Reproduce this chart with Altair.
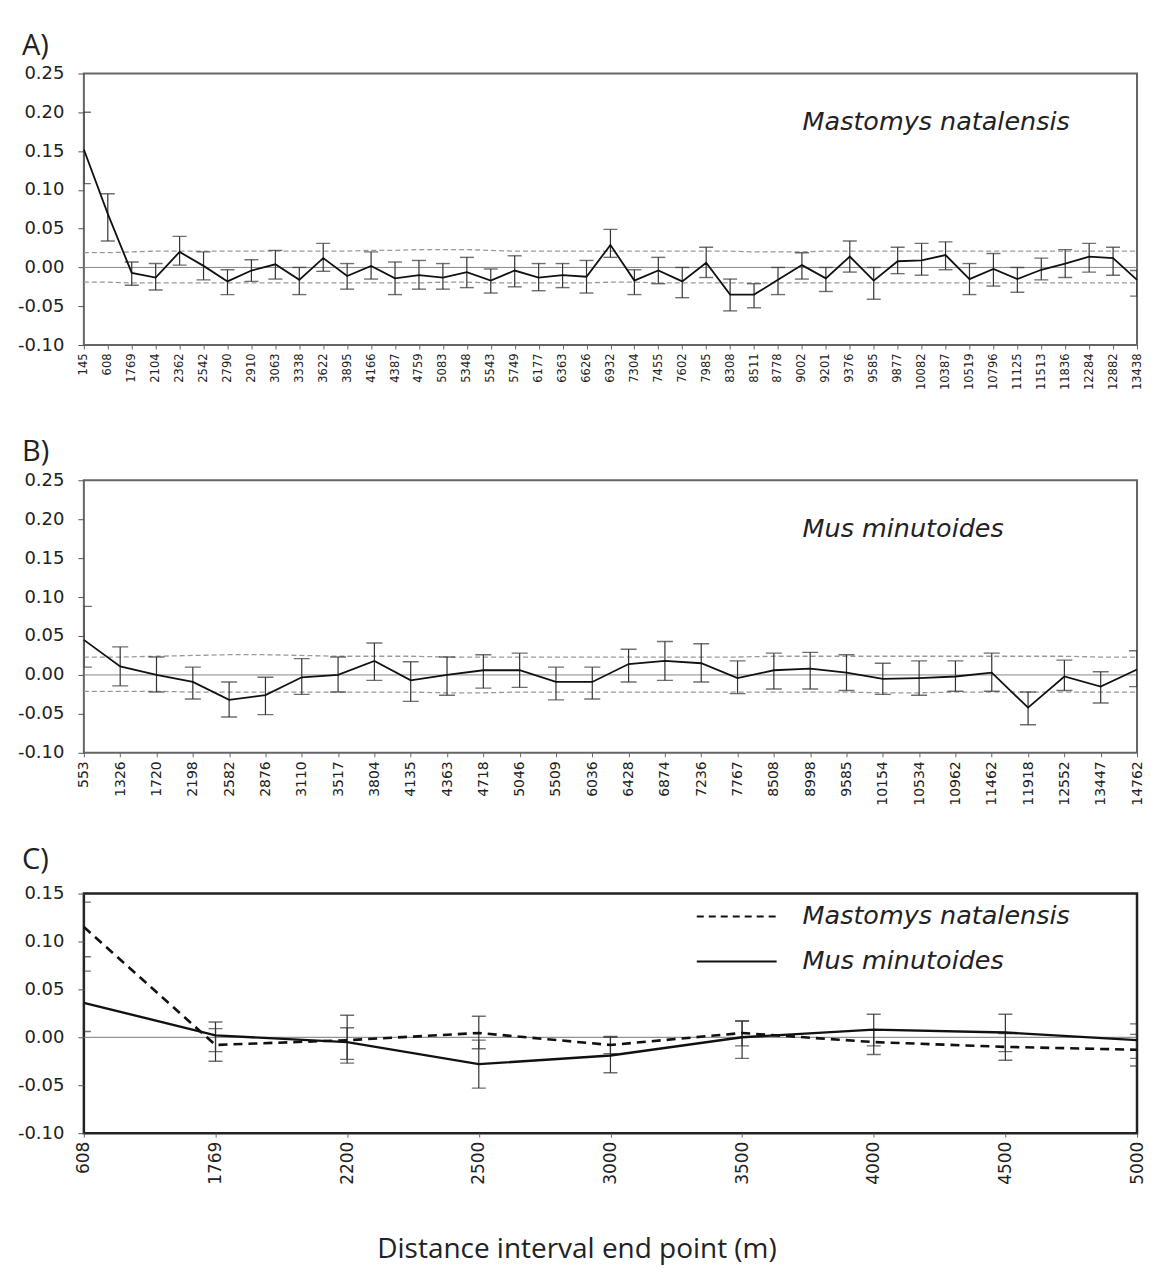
import altair as alt
import pandas as pd

# ---------------- Panel A: Mastomys natalensis ----------------
a_dist = ["145", "608", "1769", "2104", "2362", "2542", "2790", "2910", "3063", "3338",
          "3622", "3895", "4166", "4387", "4759", "5083", "5348", "5543", "5749", "6177",
          "6363", "6626", "6932", "7304", "7455", "7602", "7985", "8308", "8511", "8778",
          "9002", "9201", "9376", "9585", "9877", "10082", "10387", "10519", "10796", "11125",
          "11513", "11836", "12284", "12882", "13438"]
a_mean = [0.152, 0.069, -0.007, -0.013, 0.020, 0.002, -0.018, -0.004, 0.004, -0.016,
          0.012, -0.011, 0.002, -0.014, -0.010, -0.013, -0.006, -0.017, -0.004, -0.013,
          -0.010, -0.012, 0.029, -0.017, -0.004, -0.018, 0.006, -0.035, -0.035, -0.016,
          0.003, -0.014, 0.014, -0.017, 0.008, 0.009, 0.016, -0.015, -0.002, -0.015,
          -0.003, 0.005, 0.014, 0.012, -0.016]
a_lo = [0.108, 0.034, -0.023, -0.029, 0.003, -0.016, -0.035, -0.018, -0.015, -0.035,
        -0.005, -0.028, -0.015, -0.035, -0.028, -0.028, -0.026, -0.033, -0.025, -0.030,
        -0.026, -0.033, 0.013, -0.035, -0.021, -0.039, -0.013, -0.056, -0.052, -0.035,
        -0.015, -0.031, -0.006, -0.041, -0.008, -0.010, -0.003, -0.035, -0.024, -0.032,
        -0.016, -0.013, -0.006, -0.010, -0.037]
a_hi = [0.200, 0.095, 0.007, 0.005, 0.040, 0.020, -0.003, 0.010, 0.022, 0.000,
        0.031, 0.005, 0.020, 0.007, 0.009, 0.005, 0.013, -0.002, 0.015, 0.005,
        0.005, 0.009, 0.049, -0.003, 0.013, 0.000, 0.026, -0.015, -0.021, 0.000,
        0.019, 0.000, 0.034, 0.000, 0.026, 0.031, 0.033, 0.005, 0.018, 0.000,
        0.012, 0.023, 0.031, 0.026, -0.004]
a_env_hi = [0.019, 0.019, 0.020, 0.021, 0.021, 0.021, 0.021, 0.021, 0.021, 0.021,
            0.021, 0.021, 0.022, 0.022, 0.023, 0.023, 0.023, 0.022, 0.021, 0.021,
            0.021, 0.021, 0.021, 0.021, 0.021, 0.021, 0.021, 0.021, 0.020, 0.020,
            0.020, 0.021, 0.021, 0.021, 0.021, 0.021, 0.021, 0.021, 0.021, 0.021,
            0.021, 0.021, 0.021, 0.021, 0.021]
a_env_lo = [-0.019, -0.019, -0.020, -0.020, -0.020, -0.020, -0.020, -0.020, -0.020, -0.020,
            -0.020, -0.020, -0.020, -0.020, -0.020, -0.019, -0.019, -0.020, -0.020, -0.020,
            -0.020, -0.020, -0.019, -0.019, -0.020, -0.020, -0.020, -0.020, -0.020, -0.020,
            -0.020, -0.020, -0.020, -0.020, -0.020, -0.020, -0.020, -0.020, -0.020, -0.020,
            -0.020, -0.020, -0.020, -0.020, -0.020]

# ---------------- Panel B: Mus minutoides ----------------
b_dist = ["553", "1326", "1720", "2198", "2582", "2876", "3110", "3517", "3804", "4135",
          "4363", "4718", "5046", "5509", "6036", "6428", "6874", "7236", "7767", "8508",
          "8998", "9585", "10154", "10534", "10962", "11462", "11918", "12552", "13447", "14762"]
b_mean = [0.045, 0.011, 0.000, -0.009, -0.032, -0.026, -0.003, 0.000, 0.018, -0.007,
          0.000, 0.006, 0.006, -0.009, -0.009, 0.014, 0.018, 0.015, -0.004, 0.006,
          0.008, 0.003, -0.005, -0.004, -0.002, 0.003, -0.042, -0.002, -0.015, 0.007]
b_lo = [0.010, -0.014, -0.022, -0.031, -0.054, -0.051, -0.025, -0.022, -0.007, -0.034,
        -0.026, -0.017, -0.016, -0.032, -0.031, -0.009, -0.007, -0.009, -0.024, -0.018,
        -0.018, -0.020, -0.025, -0.026, -0.021, -0.021, -0.064, -0.020, -0.036, -0.015]
b_hi = [0.088, 0.036, 0.023, 0.010, -0.009, -0.003, 0.021, 0.023, 0.041, 0.017,
        0.023, 0.026, 0.028, 0.010, 0.010, 0.033, 0.043, 0.040, 0.018, 0.028,
        0.029, 0.026, 0.015, 0.018, 0.018, 0.028, -0.022, 0.019, 0.004, 0.031]
b_env_hi = [0.023, 0.023, 0.024, 0.025, 0.026, 0.026, 0.025, 0.024, 0.024, 0.024,
            0.023, 0.023, 0.023, 0.023, 0.023, 0.023, 0.023, 0.023, 0.023, 0.024,
            0.024, 0.024, 0.024, 0.024, 0.024, 0.024, 0.024, 0.024, 0.023, 0.023]
b_env_lo = [-0.021, -0.021, -0.021, -0.022, -0.022, -0.022, -0.022, -0.022, -0.022, -0.022,
            -0.023, -0.023, -0.022, -0.022, -0.022, -0.022, -0.022, -0.022, -0.022, -0.022,
            -0.022, -0.022, -0.023, -0.023, -0.022, -0.022, -0.022, -0.022, -0.022, -0.022]

# ---------------- Panel C: both species, common intervals ----------------
c_dist = ["608", "1769", "2200", "2500", "3000", "3500", "4000", "4500", "5000"]
c_mast_mean = [0.115, -0.008, -0.003, 0.0045, -0.008, 0.0045, -0.005, -0.010, -0.013]
c_mast_lo = [0.084, -0.025, -0.023, -0.012, -0.017, -0.009, -0.018, -0.024, -0.030]
c_mast_hi = [0.141, 0.009, 0.010, 0.022, 0.001, 0.017, 0.008, 0.004, 0.003]
c_mus_mean = [0.036, 0.002, -0.005, -0.028, -0.019, 0.000, 0.008, 0.005, -0.003]
c_mus_lo = [0.006, -0.015, -0.027, -0.053, -0.037, -0.022, -0.009, -0.015, -0.022]
c_mus_hi = [0.069, 0.016, 0.023, -0.003, 0.000, 0.017, 0.024, 0.024, 0.014]

species_a = "Mastomys natalensis"
species_b = "Mus minutoides"
x_title = "Distance interval end point (m)"
y_ticks_ab = [-0.1, -0.05, 0, 0.05, 0.1, 0.15, 0.2, 0.25]
y_ticks_c = [-0.1, -0.05, 0, 0.05, 0.1, 0.15]

LABEL_FONT = "DejaVu Sans"
TEXT_FONT = "Open Sans"
SPECIES_FONT = "DejaVu Sans"
W = 1055


def yax(vals):
    return alt.Axis(values=vals, labelExpr="replace(format(datum.value, '.2f'), '\u2212', '-')",
                    title=None, grid=False, domain=False, tickSize=6, labelPadding=14,
                    labelFontSize=18, labelFont=LABEL_FONT, labelColor="#222", tickColor="#555",
                    labelOverlap=False, labelBound=False, labelFlush=False)


def xax(fs):
    return alt.Axis(title=None, labelAngle=-90, grid=False, domain=False, tickSize=4,
                    labelPadding=4, labelFontSize=fs, labelFont=LABEL_FONT, labelColor="#222",
                    tickColor="#666", labelOverlap=False, labelFlush=False)


def letter_layer(letter, ypos):
    return alt.Chart(pd.DataFrame({"t": [letter]})).mark_text(
        font=TEXT_FONT, fontSize=29, align="left", baseline="middle", color="#222").encode(
        x=alt.value(-62), y=alt.value(ypos), text="t:N")


def single_panel(dist, mean, lo, hi, env_hi, env_lo, letter, letter_y, species, h, lab_fs, cap):
    df = pd.DataFrame({"d": dist, "i": list(range(len(dist))), "m": mean, "lo": lo, "hi": hi,
                       "eh": env_hi, "el": env_lo})
    xenc = alt.X("d:N", sort=dist, scale=alt.Scale(type="point", padding=0), axis=xax(lab_fs))
    yscale = alt.Scale(domain=[-0.1, 0.25], nice=False, zero=False)
    ya = yax(y_ticks_ab)

    def Y(f):
        return alt.Y(f, scale=yscale, axis=ya)

    base = alt.Chart(df)
    zero = alt.Chart(pd.DataFrame({"z": [0.0]})).mark_rule(color="#888", strokeWidth=1).encode(
        y=Y("z:Q"))
    env_u = base.mark_line(color="#999", strokeDash=[5, 3], strokeWidth=1.3).encode(
        x=xenc, y=Y("eh:Q"), order="i:Q")
    env_l = base.mark_line(color="#999", strokeDash=[5, 3], strokeWidth=1.3).encode(
        x=xenc, y=Y("el:Q"), order="i:Q")
    bars = base.mark_rule(color="#333", strokeWidth=1.2, clip=True).encode(
        x=xenc, y=Y("lo:Q"), y2="hi:Q")
    cap_hi = base.mark_tick(color="#333", size=cap, thickness=1.4, clip=True).encode(
        x=xenc, y=Y("hi:Q"))
    cap_lo = base.mark_tick(color="#333", size=cap, thickness=1.4, clip=True).encode(
        x=xenc, y=Y("lo:Q"))
    line = base.mark_line(color="#111", strokeWidth=1.8).encode(
        x=xenc, y=Y("m:Q"), order="i:Q")
    lab = alt.Chart(pd.DataFrame({"t": [species]})).mark_text(
        font=SPECIES_FONT, fontStyle="italic", fontSize=25.5, align="left", baseline="middle",
        color="#222").encode(x=alt.value(720), y=alt.value(49), text="t:N")
    return alt.layer(zero, env_u, env_l, bars, cap_hi, cap_lo, line, lab,
                     letter_layer(letter, letter_y)).properties(
        width=W, height=h, view=alt.ViewBackground(stroke="#666", strokeWidth=2))


panel_a = single_panel(a_dist, a_mean, a_lo, a_hi, a_env_hi, a_env_lo, "A)", -28, species_a, 272, 11.5, 14)
panel_b = single_panel(b_dist, b_mean, b_lo, b_hi, b_env_hi, b_env_lo, "B)", -28, species_b, 273, 14, 16)

# Panel C
dfc = pd.DataFrame({"d": c_dist, "i": list(range(len(c_dist))),
                    "mm": c_mast_mean, "ml": c_mast_lo, "mh": c_mast_hi,
                    "um": c_mus_mean, "ul": c_mus_lo, "uh": c_mus_hi})
yscale_c = alt.Scale(domain=[-0.1, 0.15], nice=False, zero=False)
ya_c = yax(y_ticks_c)


def YC(f):
    return alt.Y(f, scale=yscale_c, axis=ya_c)


xenc_c = alt.X("d:N", sort=c_dist, scale=alt.Scale(type="point", padding=0), axis=xax(17))
basec = alt.Chart(dfc)
c_layers = [
    alt.Chart(pd.DataFrame({"z": [0.0]})).mark_rule(color="#777", strokeWidth=1).encode(y=YC("z:Q")),
]
for lo_f, hi_f in (("ml", "mh"), ("ul", "uh")):
    c_layers.append(basec.mark_rule(color="#333", strokeWidth=1.2, clip=True).encode(
        x=xenc_c, y=YC(f"{lo_f}:Q"), y2=f"{hi_f}:Q"))
    c_layers.append(basec.mark_tick(color="#333", size=14, thickness=1.4, clip=True).encode(
        x=xenc_c, y=YC(f"{lo_f}:Q")))
    c_layers.append(basec.mark_tick(color="#333", size=14, thickness=1.4, clip=True).encode(
        x=xenc_c, y=YC(f"{hi_f}:Q")))
c_layers.append(basec.mark_line(color="#111", strokeWidth=2.6, strokeDash=[9, 6]).encode(
    x=xenc_c, y=YC("mm:Q"), order="i:Q"))
c_layers.append(basec.mark_line(color="#111", strokeWidth=2.4).encode(
    x=xenc_c, y=YC("um:Q"), order="i:Q"))
leg = pd.DataFrame({"t": [species_a, species_b], "yy": [23, 68]})
c_layers.append(alt.Chart(leg.iloc[[0]]).mark_rule(color="#111", strokeWidth=2, strokeDash=[7, 5]).encode(
    x=alt.value(614), x2=alt.value(694), y=alt.value(23)))
c_layers.append(alt.Chart(leg.iloc[[1]]).mark_rule(color="#111", strokeWidth=2).encode(
    x=alt.value(614), x2=alt.value(694), y=alt.value(68)))
c_layers.append(alt.Chart(leg).mark_text(
    font=SPECIES_FONT, fontStyle="italic", fontSize=25.5, align="left", baseline="middle", color="#222").encode(
    x=alt.value(720), y=alt.Y("yy:Q", scale=None), text="t:N"))
c_layers.append(letter_layer("C)", -34))
c_layers.append(alt.Chart(pd.DataFrame({"t": [x_title]})).mark_text(
    font=TEXT_FONT, fontSize=28, align="center", baseline="middle", color="#222").encode(
    x=alt.value(494), y=alt.value(357), text="t:N"))
panel_c = alt.layer(*c_layers).properties(
    width=W, height=240, view=alt.ViewBackground(stroke="#222", strokeWidth=2.5))

chart = alt.vconcat(
    panel_a,
    alt.vconcat(panel_b, panel_c, spacing=37),
    spacing=46.5,
).properties(
    padding={"left": 8, "top": 21.5, "right": 0, "bottom": 0}, background="white"
)

chart.save("out.html", embed_options={"renderer": "svg", "actions": False})
